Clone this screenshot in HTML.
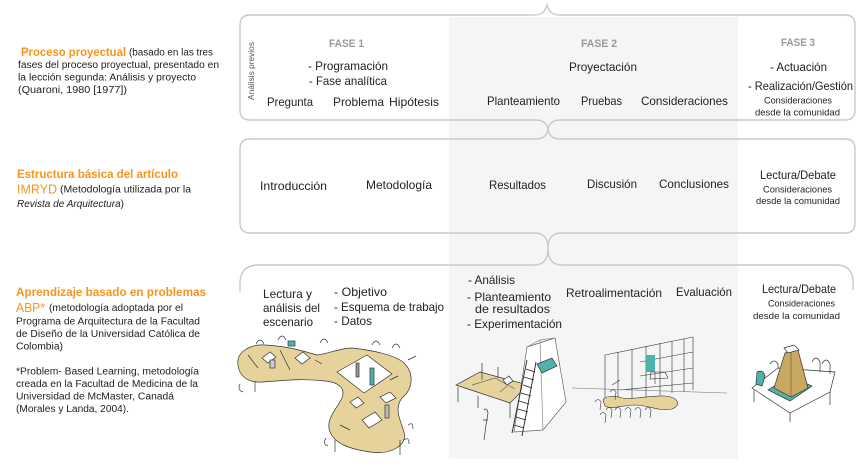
<!DOCTYPE html>
<html><head><meta charset="utf-8">
<style>
html,body{margin:0;padding:0;background:#fff;}
svg{display:block;}
text{font-family:"Liberation Sans",Arial,sans-serif;fill:#222;}
.s10{font-size:10px;}
.s12{font-size:12px;}
.s95{font-size:9.5px;}
.or{fill:#f7941d;font-weight:bold;font-size:12px;}
.orn{fill:#f7941d;font-size:12.5px;}
.fase{fill:#9a9a9a;font-weight:bold;font-size:11px;}
</style></head>
<body>
<svg width="860" height="466" viewBox="0 0 860 466" xmlns="http://www.w3.org/2000/svg">
<!-- gray band -->
<rect x="449" y="17" width="289" height="442" fill="#f5f5f5"/>

<!-- boxes and braces -->
<g fill="none" stroke="#c9c9c9" stroke-width="1.4">
  <!-- box 1 -->
  <path d="M250,15 L533,15 C542,15 545,12 547,5 C549,12 552,15 561,15 L845,15 Q855,15 855,25 L855,110 Q855,120 845,120 L560,120 C552,120 549,124 548,129.5 C547,124 544,120 536,120 L250,120 Q240,120 240,110 L240,25 Q240,15 250,15 Z"/>
  <!-- box 2 -->
  <path d="M536,139 C544,139 547,135 548,129.5 C549,135 552,139 560,139 L845,139 Q855,139 855,149 L855,223 Q855,233 845,233 L562,233 C552,233 548,238 548,248.5 C548,238 544,233 534,233 L250,233 Q240,233 240,223 L240,149 Q240,139 250,139 Z"/>
  <!-- box 3 top -->
  <path d="M240,292 L240,284 Q240,265 258,265 L534,265 C544,265 548,259 548,248.5 C548,259 552,265 562,265 L836,265 Q853,265 853,282 L853,290"/>
</g>

<!-- LEFT DESCRIPTIONS -->
<text class="or" x="21" y="56" textLength="105" lengthAdjust="spacingAndGlyphs">Proceso proyectual</text>
<text class="s10" x="129" y="55.5" textLength="84" lengthAdjust="spacingAndGlyphs">(basado en las tres</text>
<text class="s10" x="18" y="68" textLength="201" lengthAdjust="spacingAndGlyphs">fases del proceso proyectual, presentado en</text>
<text class="s10" x="18" y="80.5" textLength="178" lengthAdjust="spacingAndGlyphs">la lección segunda: Análisis y proyecto</text>
<text class="s10" x="18" y="93" textLength="109" lengthAdjust="spacingAndGlyphs">(Quaroni, 1980 [1977])</text>

<text class="or" x="17" y="178" textLength="161" lengthAdjust="spacingAndGlyphs">Estructura básica del artículo</text>
<text class="orn" x="17" y="193.5" textLength="40" lengthAdjust="spacingAndGlyphs">IMRYD</text>
<text class="s10" x="60" y="192.5" textLength="131" lengthAdjust="spacingAndGlyphs">(Metodología utilizada por la</text>
<text class="s10" x="17" y="207" textLength="107" lengthAdjust="spacingAndGlyphs"><tspan font-style="italic">Revista de Arquitectura</tspan>)</text>

<text class="or" x="16" y="296" textLength="190" lengthAdjust="spacingAndGlyphs">Aprendizaje basado en problemas</text>
<text class="orn" x="16" y="312" textLength="29" lengthAdjust="spacingAndGlyphs">ABP*</text>
<text class="s10" x="49" y="311" textLength="134" lengthAdjust="spacingAndGlyphs">(metodología adoptada por el</text>
<text class="s10" x="16" y="324.5" textLength="184" lengthAdjust="spacingAndGlyphs">Programa de Arquitectura de la Facultad</text>
<text class="s10" x="16" y="337" textLength="184" lengthAdjust="spacingAndGlyphs">de Diseño de la Universidad Católica de</text>
<text class="s10" x="16" y="349.5" textLength="47" lengthAdjust="spacingAndGlyphs">Colombia)</text>
<text class="s10" x="16" y="374.5" textLength="183" lengthAdjust="spacingAndGlyphs">*Problem- Based Learning, metodología</text>
<text class="s10" x="16" y="387" textLength="182" lengthAdjust="spacingAndGlyphs">creada en la Facultad de Medicina de la</text>
<text class="s10" x="16" y="399.5" textLength="158" lengthAdjust="spacingAndGlyphs">Universidad de McMaster, Canadá</text>
<text class="s10" x="16" y="412" textLength="113" lengthAdjust="spacingAndGlyphs">(Morales y Landa, 2004).</text>

<!-- BOX 1 -->
<text style="font-size:8px;fill:#555" transform="translate(254,100) rotate(-90)" textLength="58" lengthAdjust="spacingAndGlyphs">Análisis previos</text>
<text class="fase" x="329" y="47" textLength="35" lengthAdjust="spacingAndGlyphs">FASE 1</text>
<text class="s12" x="308" y="70" textLength="80" lengthAdjust="spacingAndGlyphs">- Programación</text>
<text class="s12" x="309" y="85" textLength="78" lengthAdjust="spacingAndGlyphs">- Fase analítica</text>
<text class="s12" x="267" y="106" textLength="46" lengthAdjust="spacingAndGlyphs">Pregunta</text>
<text class="s12" x="333" y="106" textLength="51" lengthAdjust="spacingAndGlyphs">Problema</text>
<text class="s12" x="389" y="106" textLength="50" lengthAdjust="spacingAndGlyphs">Hipótesis</text>
<text class="fase" x="581" y="47" textLength="36" lengthAdjust="spacingAndGlyphs">FASE 2</text>
<text class="s12" x="569" y="71" textLength="68" lengthAdjust="spacingAndGlyphs">Proyectación</text>
<text class="s12" x="487" y="105" textLength="73" lengthAdjust="spacingAndGlyphs">Planteamiento</text>
<text class="s12" x="581" y="105" textLength="41" lengthAdjust="spacingAndGlyphs">Pruebas</text>
<text class="s12" x="641" y="105" textLength="87" lengthAdjust="spacingAndGlyphs">Consideraciones</text>
<text class="fase" x="781" y="46" textLength="34" lengthAdjust="spacingAndGlyphs">FASE 3</text>
<text class="s12" x="770" y="71" textLength="57" lengthAdjust="spacingAndGlyphs">- Actuación</text>
<text class="s12" x="748" y="90" textLength="105" lengthAdjust="spacingAndGlyphs">- Realización/Gestión</text>
<text class="s95" x="764" y="103.5" textLength="68" lengthAdjust="spacingAndGlyphs">Consideraciones</text>
<text class="s95" x="755" y="115.5" textLength="85" lengthAdjust="spacingAndGlyphs">desde la comunidad</text>

<!-- BOX 2 -->
<text class="s12" x="260" y="190" textLength="67" lengthAdjust="spacingAndGlyphs">Introducción</text>
<text class="s12" x="366" y="189" textLength="66" lengthAdjust="spacingAndGlyphs">Metodología</text>
<text class="s12" x="489" y="189" textLength="57" lengthAdjust="spacingAndGlyphs">Resultados</text>
<text class="s12" x="587" y="188" textLength="50" lengthAdjust="spacingAndGlyphs">Discusión</text>
<text class="s12" x="659" y="188" textLength="70" lengthAdjust="spacingAndGlyphs">Conclusiones</text>
<text class="s12" x="760" y="179" textLength="76" lengthAdjust="spacingAndGlyphs">Lectura/Debate</text>
<text class="s95" x="763" y="192.5" textLength="69" lengthAdjust="spacingAndGlyphs">Consideraciones</text>
<text class="s95" x="756" y="204" textLength="84" lengthAdjust="spacingAndGlyphs">desde la comunidad</text>

<!-- BOX 3 -->
<text class="s12" x="263" y="298" textLength="49" lengthAdjust="spacingAndGlyphs">Lectura y</text>
<text class="s12" x="263" y="312" textLength="57" lengthAdjust="spacingAndGlyphs">análisis del</text>
<text class="s12" x="263" y="326" textLength="50" lengthAdjust="spacingAndGlyphs">escenario</text>
<text class="s12" x="334" y="296" textLength="53" lengthAdjust="spacingAndGlyphs">- Objetivo</text>
<text class="s12" x="334" y="311" textLength="110" lengthAdjust="spacingAndGlyphs">- Esquema de trabajo</text>
<text class="s12" x="334" y="325" textLength="38" lengthAdjust="spacingAndGlyphs">- Datos</text>
<text class="s12" x="468" y="284" textLength="47" lengthAdjust="spacingAndGlyphs">- Análisis</text>
<text class="s12" x="467" y="301" textLength="84" lengthAdjust="spacingAndGlyphs">- Planteamiento</text>
<text class="s12" x="475" y="313" textLength="75" lengthAdjust="spacingAndGlyphs">de resultados</text>
<text class="s12" x="467" y="328" textLength="95" lengthAdjust="spacingAndGlyphs">- Experimentación</text>
<text class="s12" x="566" y="297" textLength="96" lengthAdjust="spacingAndGlyphs">Retroalimentación</text>
<text class="s12" x="676" y="296" textLength="56" lengthAdjust="spacingAndGlyphs">Evaluación</text>
<text class="s12" x="762" y="293" textLength="74" lengthAdjust="spacingAndGlyphs">Lectura/Debate</text>
<text class="s95" x="768" y="306.5" textLength="67" lengthAdjust="spacingAndGlyphs">Consideraciones</text>
<text class="s95" x="753" y="319" textLength="87" lengthAdjust="spacingAndGlyphs">desde la comunidad</text>

<!-- SKETCH 1 -->
<g stroke="#333" stroke-width="0.7" fill="none">
  <path d="M238,365 C236,352 250,344 265,345 C285,346 300,350 317,355 C328,354 340,348 352,348 C370,350 392,354 403,362 C414,372 414,388 402,398 C394,408 400,420 404,432 C408,446 390,455 370,452 C350,449 335,444 330,432 C325,420 336,410 342,398 C346,388 338,382 325,381 C300,378 280,381 262,382 C248,383 239,376 238,365 Z" fill="#e6d39c"/>
  <polygon points="337,372 367,355 392,374 364,393" fill="#fff"/>
  <rect x="288" y="341" width="7" height="5" fill="#4fb3a9"/>
  <rect x="370" y="368" width="4" height="17" fill="#4fb3a9"/>
  <rect x="356" y="363" width="3" height="14" fill="#999"/>
  <polygon points="262,358 270,352 276,357 268,363" fill="#fff"/>
  <polygon points="295,358 303,352 310,358 302,364" fill="#fff"/>
  <rect x="270" y="360" width="5" height="8" fill="#ccc"/>
  <polygon points="362,420 375,412 382,420 369,428" fill="#fff"/>
  <polygon points="380,397 390,392 396,398 386,403" fill="#fff"/>
  <rect x="385" y="405" width="4" height="13" fill="#bbb"/>
  <polygon points="350,402 358,397 364,403 356,408" fill="#fff"/>
  <path d="M248,355 L258,368 M280,350 L290,370 M315,360 L322,364 M390,380 L398,376 M340,425 L350,430"/>
  <path d="M256,344 q4,-8 8,0 M278,340 q4,-8 8,0 M320,343 q4,-8 8,0 M372,345 q4,-8 8,0 M392,348 q4,-8 8,0 M408,425 q5,-4 5,4 M404,440 q5,-4 5,4 M326,438 q-4,6 2,8 M240,384 q-3,6 3,8"/>
  <path d="M255,381 L255,392 M400,440 L400,455 M335,440 L335,452 M408,360 L416,356"/>
</g>

<!-- SKETCH 2 -->
<g stroke="#333" stroke-width="0.7" fill="none">
  <polygon points="456,385 480,372 528,385 510,403" fill="#e6d39c"/>
  <path d="M458,387 L458,402 M510,403 L510,418 M527,387 L527,399 M478,396 L478,408"/>
  <path d="M472,385 L495,378 L515,389 M500,392 L507,386" stroke="#666"/>
  <path d="M482,363 L482,380 M498,367 L498,378" />
  <polygon points="503,380 509,376 513,381 507,385" fill="#fff"/>
  <polygon points="527,347 555,338 566,402 543,430 514,432" fill="#fff" stroke="#666"/>
  <path d="M527,347 L540,340 L555,338 M540,340 L543,430" stroke="#888"/>
  <polygon points="537,364 552,358 557,366 542,373" fill="#4fb3a9"/>
  <path d="M512,433 L527,360 M522,436 L536,362" stroke="#222" stroke-width="0.9"/>
  <path d="M514,425 L524,428 M516,417 L526,420 M518,409 L528,412 M519,401 L529,404 M521,393 L531,396 M523,385 L532,388 M524,377 L534,380 M526,369 L535,372" stroke="#222"/>
  <path d="M484,410 q3,-3 4,3 L486,425 L484,440 M483,420 L488,420"/>
</g>

<!-- SKETCH 3 -->
<g stroke="#333" stroke-width="0.6" fill="none">
  <path d="M605,355 L693,337 M640,362 L693,352 M640,376 L693,368 M620,390 L693,383"/>
  <path d="M605,355 L605,402 M618,352 L618,400 M632,349 L632,398 M646,346 L646,397 M660,343 L660,395 M672,341 L672,393 M684,339 L684,392 M693,337 L693,390"/>
  <path d="M572,388 L727,393" stroke="#777"/>
  <rect x="646" y="355" width="9" height="17" fill="#4fb3a9" stroke="none"/>
  <path d="M651,372 L665,372 L668,378 L650,379 Z M655,372 L655,384"/>
  <path d="M603,400 C605,395 615,396 622,398 C635,400 650,395 665,396 C678,397 682,405 672,409 C660,412 648,405 635,405 C622,405 612,410 605,406 Z" fill="#e6d39c"/>
  <path d="M595,402 q3,-5 6,0 L600,410 M606,410 q3,-5 6,0 L611,418 M615,410 q3,-5 6,0 L620,418 M625,410 q3,-5 6,0 L630,418 M635,410 q3,-5 6,0 L640,418 M645,410 q3,-5 6,0 L650,418 M600,415 q3,-5 6,0 L605,423 M610,392 q3,-5 6,0 L615,400"/>
  <path d="M612,385 L620,380"/>
</g>

<!-- SKETCH 4 -->
<g stroke="#333" stroke-width="0.7" fill="none">
  <polygon points="752,388 778,368 835,372 830,392 790,413" fill="#fff"/>
  <path d="M754,390 L754,402 M790,413 L790,422 M830,392 L830,405 M778,368 L778,364"/>
  <polygon points="768,390 790,376 812,386 790,401" fill="#4fb3a9"/>
  <polygon points="785,353 798,350 808,388 791,397 774,388" fill="#c9a862"/>
  <path d="M791,352 L791,397" stroke="#7a6030"/>
  <polygon points="784,348 794,345 799,350 788,353" fill="#fff"/>
  <path d="M757,372 q6,-3 8,4 L762,386 L756,384 Z" fill="#4fb3a9"/>
  <path d="M812,362 q4,-8 8,0 L820,372 M822,364 q4,-8 8,0 L830,374 M770,364 q4,-6 8,0"/>
</g>
</svg>
</body></html>
